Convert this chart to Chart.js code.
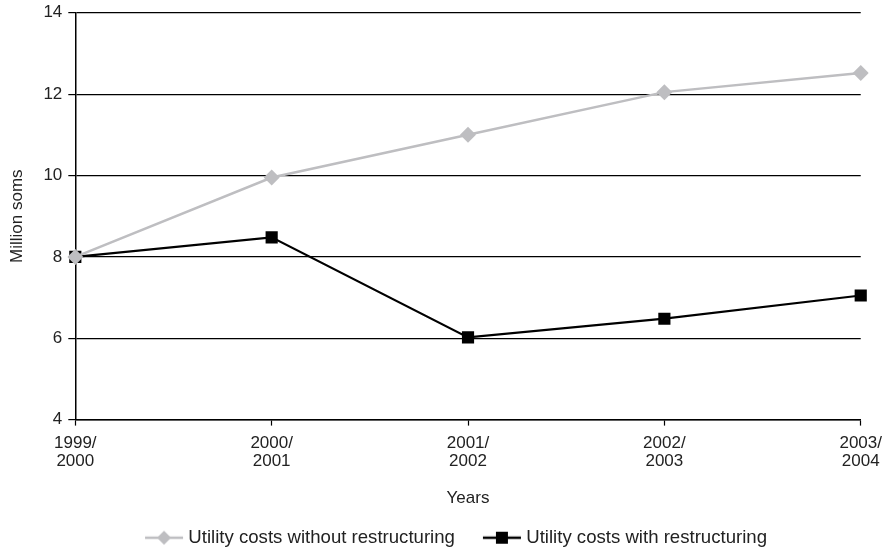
<!DOCTYPE html>
<html>
<head>
<meta charset="utf-8">
<script src="https://cdn.jsdelivr.net/npm/chart.js@4"></script>
<style>
  html, body { margin: 0; padding: 0; background: #fff; }
  #wrap { width: 890px; height: 549px; }
</style>
</head>
<body>
<div id="wrap"><canvas id="utilityChart" width="890" height="549"></canvas></div>
<script>
const years = [['1999/', '2000'], ['2000/', '2001'], ['2001/', '2002'], ['2002/', '2003'], ['2003/', '2004']];
const withoutRestructuring = [8, 9.95, 11, 12.05, 12.52];
const withRestructuring = [8, 8.48, 6.02, 6.48, 7.05];

const grey = '#bebec1';
const textColor = '#222';
const fontFamily = 'Liberation Sans';

// line + marker picture for the legend (line drawn in the right part of the image)
function legendIcon(color, style, size) {
  const c = document.createElement('canvas');
  c.width = 50; c.height = 18;
  const g = c.getContext('2d');
  g.strokeStyle = color;
  g.lineWidth = 2.4;
  g.beginPath(); g.moveTo(11, 9); g.lineTo(49, 9); g.stroke();
  g.fillStyle = color;
  g.beginPath();
  if (style === 'diamond') {
    g.moveTo(30, 9 - size); g.lineTo(30 + size, 9); g.lineTo(30, 9 + size); g.lineTo(30 - size, 9);
  } else {
    g.rect(30 - size, 9 - size, size * 2, size * 2);
  }
  g.closePath(); g.fill();
  return c;
}

const icons = [legendIcon(grey, 'diamond', 7), legendIcon('#000', 'square', 6)];

// nudge the legend row a bit to the right, like the original
const legendShift = {
  id: 'legendShift',
  afterLayout(chart) {
    chart.legend.left += 9;
    chart.legend.right += 9;
  }
};

const data = {
  labels: years,
  datasets: [
    {
      label: 'Utility costs without restructuring',
      data: withoutRestructuring,
      borderColor: grey,
      backgroundColor: grey,
      borderWidth: 2.5,
      pointStyle: 'rectRot',
      pointRadius: 8,
      pointHoverRadius: 8,
      pointBorderWidth: 0,
      tension: 0
    },
    {
      label: 'Utility costs with restructuring',
      data: withRestructuring,
      borderColor: '#000',
      backgroundColor: '#000',
      borderWidth: 2.2,
      pointStyle: 'rect',
      pointRadius: 8.6,
      pointHoverRadius: 8.6,
      pointBorderWidth: 0,
      tension: 0
    }
  ]
};

const config = {
  type: 'line',
  data: data,
  plugins: [legendShift],
  options: {
    responsive: false,
    animation: false,
    layout: { padding: { top: 0, right: 5, left: 3, bottom: -8 } },
    plugins: {
      tooltip: { enabled: false },
      legend: {
        position: 'bottom',
        labels: {
          color: textColor,
          font: { family: fontFamily, size: 18.6 },
          usePointStyle: true,
          pointStyleWidth: 40,
          padding: 22,
          generateLabels: (chart) => chart.data.datasets.map((ds, i) => ({
            text: ds.label,
            pointStyle: icons[i],
            fillStyle: ds.backgroundColor,
            strokeStyle: ds.borderColor,
            lineWidth: 0,
            fontColor: textColor,
            datasetIndex: i
          }))
        }
      }
    },
    scales: {
      x: {
        offset: false,
        grid: { drawOnChartArea: false, color: '#000', tickLength: 6, tickWidth: 1.2 },
        border: { color: '#000', width: 1.5 },
        ticks: { color: textColor, font: { family: fontFamily, size: 17, lineHeight: 1.1 }, maxRotation: 0, padding: 8 },
        title: { display: true, text: 'Years', color: textColor, font: { family: fontFamily, size: 17 }, padding: { top: 9, bottom: -2 } }
      },
      y: {
        min: 4,
        max: 14,
        ticks: { stepSize: 2, color: textColor, font: { family: fontFamily, size: 17, lineHeight: 0.8 }, padding: 6 },
        grid: { color: '#000', lineWidth: 1.2, tickLength: 7 },
        border: { color: '#000', width: 1.5 },
        title: { display: true, text: 'Million soms', color: textColor, font: { family: fontFamily, size: 17 }, padding: { bottom: 10 } }
      }
    }
  }
};

const ctx = document.getElementById('utilityChart').getContext('2d');
const myChart = new Chart(ctx, config);
</script>
</body>
</html>
